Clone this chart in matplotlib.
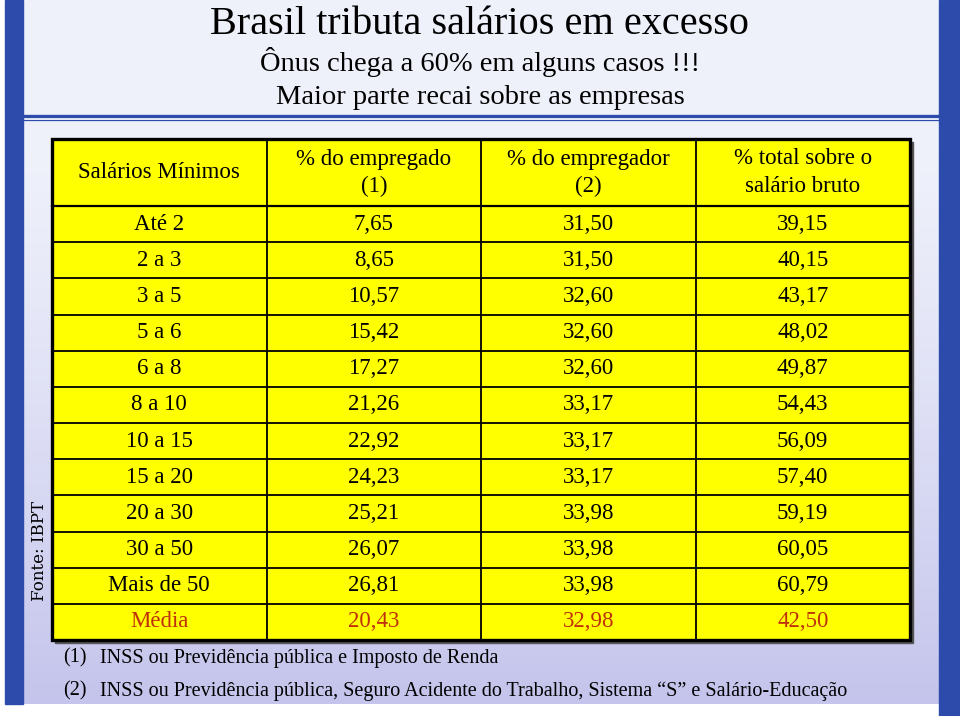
import matplotlib.pyplot as plt
import numpy as np
from matplotlib.patches import Rectangle

# dados (Fonte: IBPT)
faixas = ["Até 2", "2 a 3", "3 a 5", "5 a 6", "6 a 8", "8 a 10", "10 a 15",
          "15 a 20", "20 a 30", "30 a 50", "Mais de 50"]
empregado = [7.65, 8.65, 10.57, 15.42, 17.27, 21.26, 22.92, 24.23, 25.21, 26.07, 26.81]
empregador = [31.50, 31.50, 32.60, 32.60, 32.60, 33.17, 33.17, 33.17, 33.98, 33.98, 33.98]
total = [39.15, 40.15, 43.17, 48.02, 49.87, 54.43, 56.09, 57.40, 59.19, 60.05, 60.79]
media = [20.43, 32.98, 42.50]

cabecalho = [["Salários Mínimos"],
             ["% do empregado", "(1)"],
             ["% do empregador", "(2)"],
             ["% total sobre o", "salário bruto"]]

titulo = "Brasil tributa salários em excesso"
subtitulos = ["Ônus chega a 60% em alguns casos !!!", "Maior parte recai sobre as empresas"]
notas = ["INSS ou Previdência pública e Imposto de Renda",
         "INSS ou Previdência pública, Seguro Acidente do Trabalho, Sistema \u201cS\u201d e Salário-Educação"]

SERIF = ["Liberation Serif", "DejaVu Serif"]
AZUL = "#2D4BAA"
AMARELO = "#FFFF00"
VERMELHO = "#C0300A"


def fmt(v):
    return f"{v:.2f}".replace(".", ",")


fig = plt.figure(figsize=(9.6, 7.16), dpi=100)
ax = fig.add_axes([0, 0, 1, 1])
ax.set_xlim(0, 960)
ax.set_ylim(716, 0)
ax.axis("off")

# fundo em degradê
grad = np.linspace(0, 1, 256)[:, None]
top = np.array([240, 242, 251]) / 255
bot = np.array([196, 196, 236]) / 255
img = top + (bot - top) * grad[..., None] ** 1.3
ax.imshow(img, extent=[5, 959, 704, 120], aspect="auto", zorder=0)
ax.add_patch(Rectangle((5, 0), 954, 114, color="#EEF0FA", zorder=0))

# barras laterais e linha dupla
ax.add_patch(Rectangle((5, 0), 18, 704, color=AZUL, zorder=1))
ax.add_patch(Rectangle((939, 0), 20, 716, color=AZUL, zorder=1))
ax.plot([23, 939], [115.5, 115.5], color=AZUL, lw=2.4, zorder=1)
ax.plot([23, 939], [119.5, 119.5], color=AZUL, lw=0.9, zorder=1)

# títulos
ax.text(480, 25, titulo, ha="center", va="center", fontsize=29, family=SERIF)
ax.text(480, 62, subtitulos[0], ha="center", va="center", fontsize=20.5, family=SERIF)
ax.text(480, 97, subtitulos[1], ha="center", va="center", fontsize=20.5, family=SERIF)

# tabela
x0, x1 = 52, 910
col_w = (x1 - x0) / 4
y_top, y_head = 139, 206
n_rows = len(faixas) + 1
row_h = (640 - y_head) / n_rows
y_bot = y_head + n_rows * row_h
FS = 16.5

ax.add_patch(Rectangle((x0 + 3, y_top + 3), x1 - x0, y_bot - y_top, color="#555555", zorder=2))
ax.add_patch(Rectangle((x0, y_top), x1 - x0, y_bot - y_top, facecolor=AMARELO,
                       edgecolor="black", lw=2.4, zorder=3))
for j in range(1, 4):
    ax.plot([x0 + j * col_w] * 2, [y_top, y_bot], color="black", lw=1.3, zorder=4)
for i in range(n_rows):
    y = y_head + i * row_h
    ax.plot([x0, x1], [y, y], color="black", lw=1.6 if i == 0 else 1.3, zorder=4)

for j, linhas in enumerate(cabecalho):
    cx = x0 + (j + 0.5) * col_w
    if len(linhas) == 1:
        ax.text(cx, 173, linhas[0], ha="center", va="center", fontsize=FS, family=SERIF, zorder=5)
    else:
        ax.text(cx, 159, linhas[0], ha="center", va="center", fontsize=FS, family=SERIF, zorder=5)
        ax.text(cx, 186, linhas[1], ha="center", va="center", fontsize=FS, family=SERIF, zorder=5)

for i, faixa in enumerate(faixas):
    cy = y_head + (i + 0.5) * row_h
    valores = [faixa, fmt(empregado[i]), fmt(empregador[i]), fmt(total[i])]
    for j, v in enumerate(valores):
        ax.text(x0 + (j + 0.5) * col_w, cy, v, ha="center", va="center",
                fontsize=FS, family=SERIF, zorder=5)

cy = y_head + (n_rows - 0.5) * row_h
for j, v in enumerate(["Média"] + [fmt(m) for m in media]):
    ax.text(x0 + (j + 0.5) * col_w, cy, v, ha="center", va="center", fontsize=FS,
            family=SERIF, color=VERMELHO, zorder=5)

# notas
for k, nota in enumerate(notas):
    y = 658 + k * 33
    ax.text(63, y, f"({k + 1})", ha="left", va="center", fontsize=14.5, family=SERIF)
    ax.text(100, y, nota, ha="left", va="center", fontsize=14.5, family=SERIF)

ax.text(39, 551, "Fonte: IBPT", rotation=90, ha="center", va="center",
        fontsize=12, family=["DejaVu Serif"])

fig.savefig("out.png", dpi=100)
